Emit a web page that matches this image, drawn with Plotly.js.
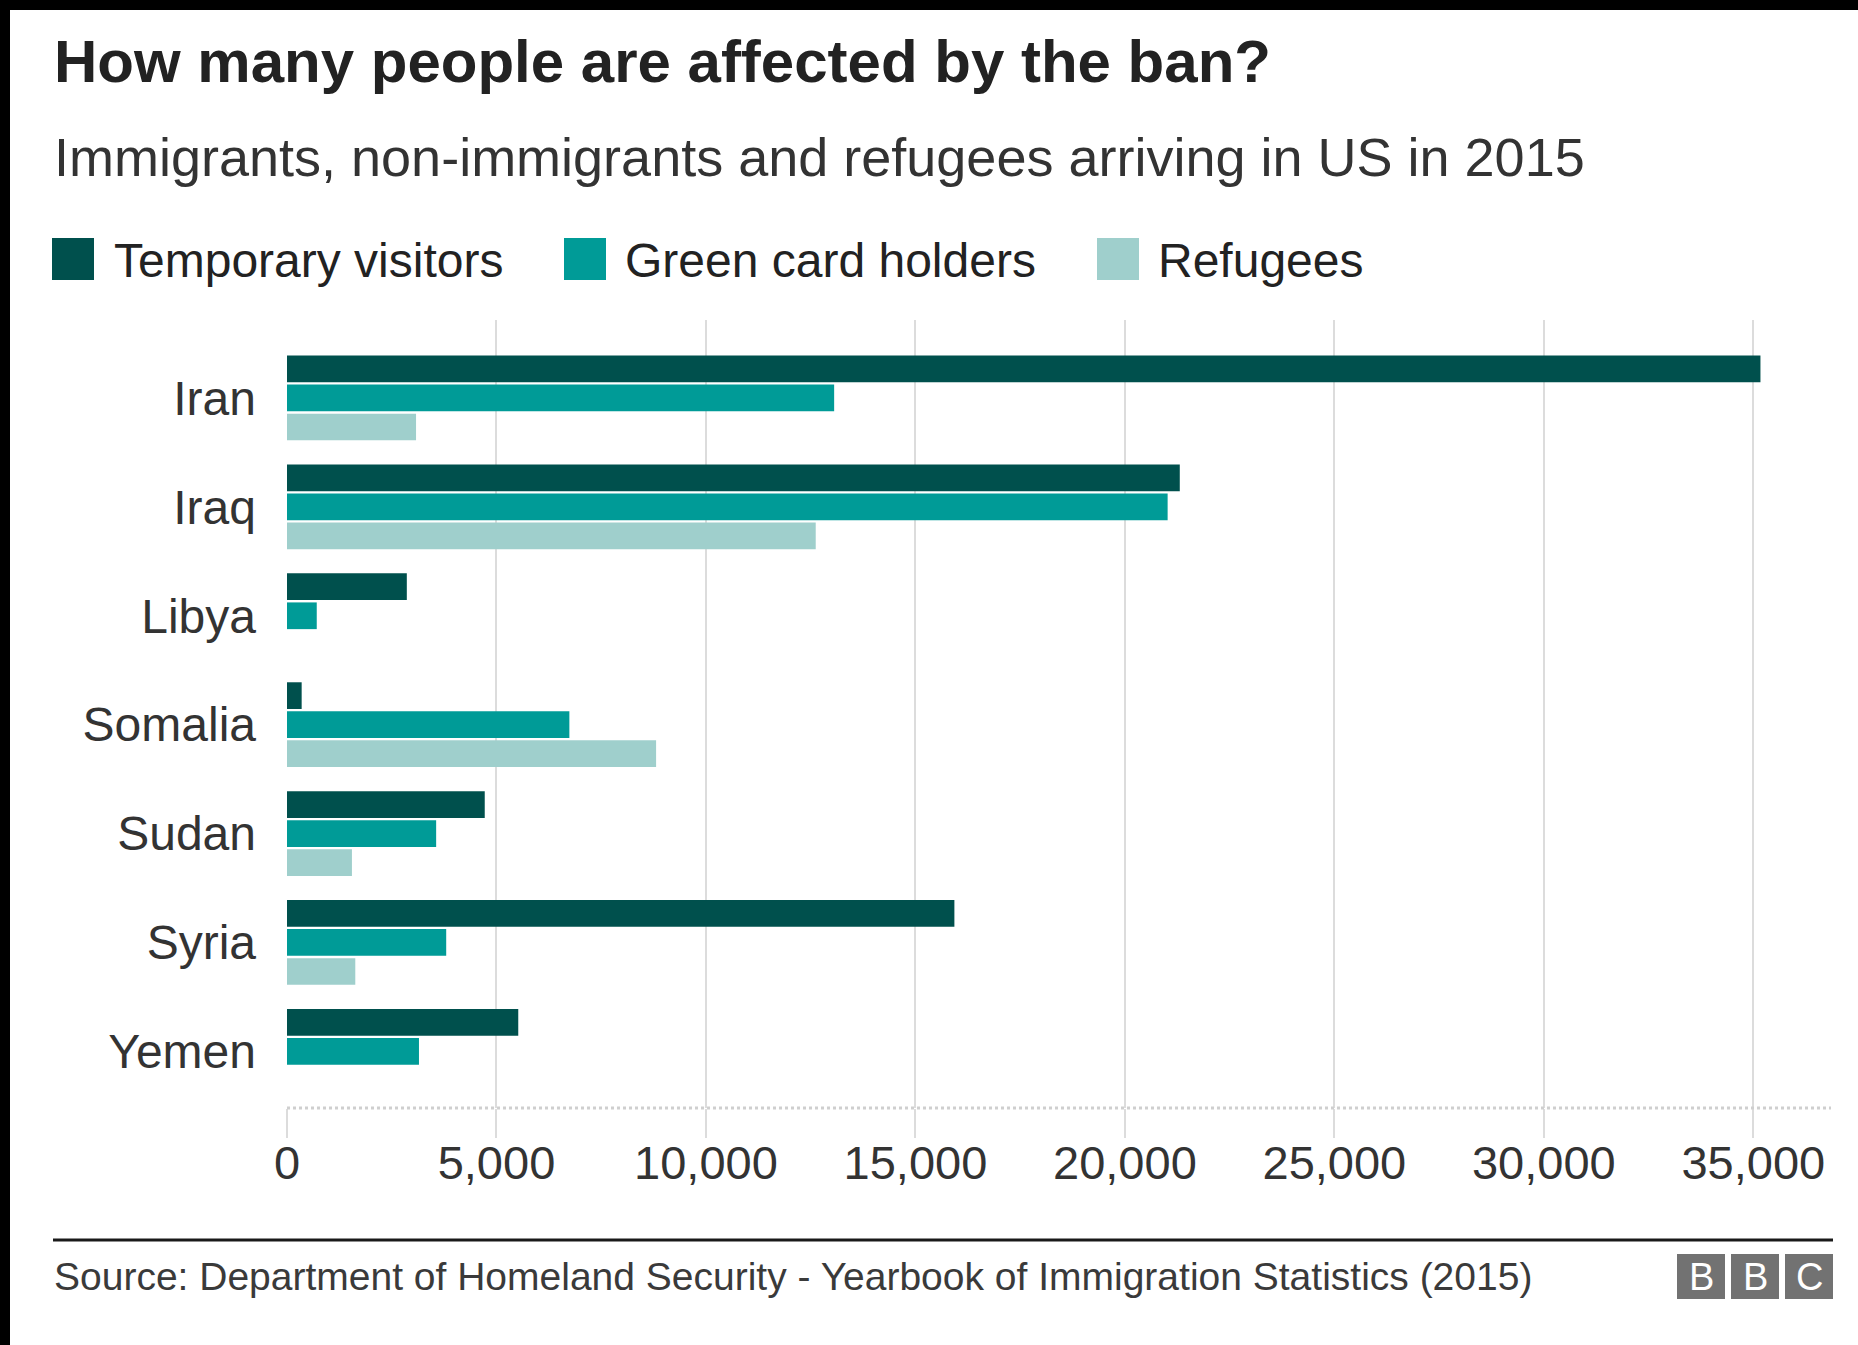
<!DOCTYPE html>
<html>
<head>
<meta charset="utf-8">
<script src="https://cdn.plot.ly/plotly-3.0.1.min.js"></script>
<style>
  html, body { margin: 0; padding: 0; background: #ffffff; }
  #chart { width: 1858px; height: 1345px; }
</style>
</head>
<body>
<div id="chart"></div>
<script>
// ---- Data ----
const countries = ["Iran", "Iraq", "Libya", "Somalia", "Sudan", "Syria", "Yemen"];
const temporaryVisitors = [35170, 21310, 2860, 350, 4720, 15930, 5520];
const greenCardHolders = [13060, 21020, 710, 6740, 3560, 3800, 3150];
const refugees = [3080, 12620, 0, 8810, 1550, 1630, 0];
const seriesNames = ["Temporary visitors", "Green card holders", "Refugees"];
const xTickValues = [0, 5000, 10000, 15000, 20000, 25000, 30000, 35000];

const titleText = "How many people are affected by the ban?";
const subtitleText = "Immigrants, non-immigrants and refugees arriving in US in 2015";
const sourceText = "Source: Department of Homeland Security - Yearbook of Immigration Statistics (2015)";

// ---- Styling ----
const colors = ["#00504d", "#009b97", "#9fcfcc"];
const FONT = "Liberation Sans, Arial, Helvetica, sans-serif";
const W = 1858, H = 1345;
const M = { l: 287, r: 27, t: 320, b: 237 };
const plotW = W - M.l - M.r, plotH = H - M.t - M.b;
const px = p => (p - M.l) / plotW;          // pixel x -> paper x
const py = p => (H - M.b - p) / plotH;      // pixel y -> paper y

const seriesValues = [temporaryVisitors, greenCardHolders, refugees];
const traces = seriesValues.map((vals, i) => ({
  type: "bar",
  orientation: "h",
  name: seriesNames[i],
  y: countries,
  x: vals,
  marker: { color: colors[i], line: { width: 0 } },
  hoverinfo: "skip"
}));

const shapes = [
  // black frame bands (top and left)
  { type: "rect", xref: "paper", yref: "paper", x0: px(0), x1: px(W), y0: py(0), y1: py(10), fillcolor: "#000", line: { width: 0 }, layer: "above" },
  { type: "rect", xref: "paper", yref: "paper", x0: px(0), x1: px(10), y0: py(0), y1: py(H), fillcolor: "#000", line: { width: 0 }, layer: "above" },
  // dotted baseline
  { type: "line", xref: "paper", yref: "paper", x0: 0, x1: 1, y0: 0, y1: 0, line: { color: "#cfcfcf", width: 3, dash: "dot" } },
  // footer rule
  { type: "line", xref: "paper", yref: "paper", x0: px(53), x1: px(1833), y0: py(1240), y1: py(1240), line: { color: "#1a1a1a", width: 3 } }
];

const annotations = [
  { text: "<b>" + titleText + "</b>", x: px(52), y: py(61), xanchor: "left", yanchor: "middle",
    font: { family: FONT, size: 60, color: "#222222" } },
  { text: subtitleText, x: px(52), y: py(157), xanchor: "left", yanchor: "middle",
    font: { family: FONT, size: 54, color: "#333333" } },
  { text: sourceText, x: px(52), y: py(1276), xanchor: "left", yanchor: "middle",
    font: { family: FONT, size: 39, color: "#3a3a3a" } }
];

// custom legend
const legendSquareX = [52, 564, 1097];
const legendTextX = [112, 623, 1156];
seriesNames.forEach((name, i) => {
  shapes.push({ type: "rect", xref: "paper", yref: "paper",
    x0: px(legendSquareX[i]), x1: px(legendSquareX[i] + 42), y0: py(238), y1: py(280),
    fillcolor: colors[i], line: { width: 0 } });
  annotations.push({ text: name, x: px(legendTextX[i]), y: py(260), xanchor: "left", yanchor: "middle",
    font: { family: FONT, size: 48, color: "#222222" } });
});

// BBC logo blocks
const logoLetters = ["B", "B", "C"];
const logoX = [1677, 1731, 1785];
logoLetters.forEach((ch, i) => {
  shapes.push({ type: "rect", xref: "paper", yref: "paper",
    x0: px(logoX[i]), x1: px(logoX[i] + 48), y0: py(1254), y1: py(1299),
    fillcolor: "#727272", line: { width: 0 } });
  annotations.push({ text: ch, x: px(logoX[i] + 24), y: py(1277), xanchor: "center", yanchor: "middle",
    font: { family: FONT, size: 38, color: "#ffffff" } });
});
annotations.forEach(a => { a.xref = "paper"; a.yref = "paper"; a.showarrow = false; });

const layout = {
  width: W, height: H,
  margin: M,
  paper_bgcolor: "#ffffff",
  plot_bgcolor: "#ffffff",
  showlegend: false,
  barmode: "group",
  bargap: 0.2,
  bargroupgap: 0.08,
  xaxis: {
    range: [0, 36854],
    tickvals: xTickValues,
    tickformat: ",",
    showgrid: true, gridcolor: "#dcdcdc", gridwidth: 2,
    zeroline: false, showline: false,
    ticks: "outside", ticklen: 29, tickwidth: 2, tickcolor: "#dcdcdc",
    ticklabelstandoff: -15,
    tickfont: { family: FONT, size: 47, color: "#333333" },
    fixedrange: true
  },
  yaxis: {
    type: "category",
    range: [6.52, -0.716],
    showgrid: false, zeroline: false, showline: false,
    ticks: "",
    ticklabelstandoff: 30,
    tickfont: { family: FONT, size: 48, color: "#333333" },
    fixedrange: true
  },
  shapes: shapes,
  annotations: annotations
};

Plotly.newPlot("chart", traces, layout, { displayModeBar: false, staticPlot: true });
</script>
</body>
</html>
